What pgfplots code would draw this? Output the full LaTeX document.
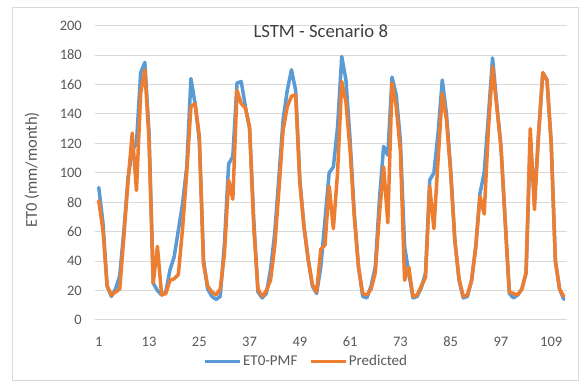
\documentclass[border=0pt]{standalone}
\usepackage{fontspec}
\setmainfont{Carlito}
\usepackage{pgfplots}
\pgfplotsset{compat=1.18}
\usepackage{pgfplotstable}
\definecolor{cblue}{HTML}{5B9BD5}
\definecolor{corange}{HTML}{ED7D31}
\definecolor{gridc}{HTML}{D9D9D9}
\definecolor{txt}{HTML}{595959}
\definecolor{ttl}{HTML}{404040}

\pgfplotstableread{
x B O
1 90 81
2 66 61
3 23 23
4 16 17
5 21 19
6 30 21
7 61 57
8 97 95
9 115 127
10 120 88
11 168 154
12 175 170
13 127 122
14 25 25
15 20 50
16 17 17
17 19 18
18 34 27
19 43 28
20 61 31
21 79 62
22 104 100
23 164 145
24 147 147
25 122 125
26 41 38
27 21 23
28 16 19
29 14 17
30 16 21
31 52 45
32 106 95
33 111 82
34 161 156
35 162 147
36 145 144
37 130 131
38 68 63
39 19 21
40 15 16
41 18 20
42 34 27
43 59 50
44 97 88
45 136 129
46 156 145
47 170 152
48 156 153
49 95 93
50 63 63
51 41 41
52 23 24
53 18 19
54 36 48
55 68 51
56 100 91
57 104 62
58 131 100
59 179 162
60 163 148
61 122 115
62 72 70
63 36 36
64 16 18
65 15 17
66 23 21
67 36 32
68 82 72
69 118 104
70 112 66
71 165 161
72 153 145
73 122 115
74 50 27
75 32 36
76 15 16
77 16 17
78 22 23
79 32 29
80 95 91
81 100 62
82 127 109
83 163 154
84 140 136
85 102 100
86 54 54
87 27 28
88 15 16
89 16 17
90 27 27
91 50 50
92 86 84
93 100 72
94 138 129
95 178 172
96 147 145
97 118 118
98 68 68
99 18 19
100 15 18
101 17 17
102 21 21
103 32 32
104 122 130
105 82 75
106 127 127
107 168 168
108 163 163
109 120 120
110 40 40
111 21 21
112 14 16
}\data

\begin{document}
\begin{tikzpicture}
\useasboundingbox (0,0) rectangle (584pt,385pt);
\fill[white] (0,0) rectangle (584pt,385pt);
\draw[gridc, line width=0.75pt] (12pt,5pt) rectangle (578pt,378pt);
\begin{axis}[
  at={(95pt,65pt)}, anchor=south west,
  scale only axis, width=471.7pt, height=294.4pt,
  xmin=0.1, xmax=112.7, ymin=0, ymax=200,
  xtick={1,13,...,109}, ytick={0,20,...,200},
  ymajorgrids, major grid style={gridc, line width=1pt},
  axis line style={draw=none}, major tick length=0pt,
  /pgf/number format/assume math mode=true,
  tick label style={font=\fontsize{14.5}{17}\selectfont, text=txt},
  xticklabel style={anchor=base, yshift=-26.5pt, inner sep=0pt},
  yticklabel style={anchor=east, inner sep=0pt, xshift=-13pt},
  title={LSTM - Scenario 8},
  title style={at={(0.4787,0.94)}, anchor=base, inner sep=0pt,
    font=\fontsize{18.7}{22}\selectfont, text=ttl},
  ylabel={ET0 (mm/month)},
  ylabel style={at={(-0.1336,0.5095)}, anchor=center, inner sep=0pt,
    font=\fontsize{16.5}{19}\selectfont, text=txt},
  legend columns=2,
  legend style={at={(0.447,-0.141)}, anchor=center, draw=none, fill=none,
    font=\fontsize{15}{18}\selectfont, text=txt,
    nodes={inner sep=1pt},
    /tikz/every even column/.append style={column sep=11pt}},
  legend image code/.code={\draw[#1, line cap=butt] (0pt,0pt) -- (35pt,0pt);},
]
\addplot[cblue, line width=3.5pt, line join=round, line cap=round] table[x=x, y=B]{\data};
\addlegendentry{ET0-PMF}
\addplot[corange, line width=3.5pt, line join=round, line cap=round] table[x=x, y=O]{\data};
\addlegendentry{Predicted}
\end{axis}
\end{tikzpicture}
\end{document}
